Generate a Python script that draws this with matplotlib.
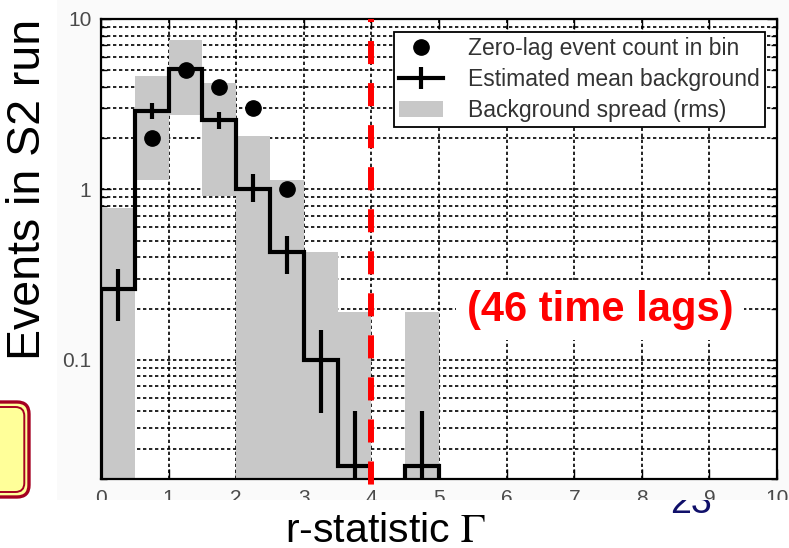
import numpy as np
import matplotlib
matplotlib.use("Agg")
import matplotlib.pyplot as plt
from matplotlib.lines import Line2D
from matplotlib.patches import Patch, Rectangle, FancyBboxPatch
from matplotlib.transforms import IdentityTransform, Bbox
from matplotlib.ticker import FixedLocator, LogLocator, NullFormatter

plt.rcParams['font.family'] = ['Liberation Sans', 'DejaVu Sans']
plt.rcParams['mathtext.fontset'] = 'stix'

# r-statistic histogram, bins of width 0.5
bin_edges = np.arange(0, 5.01, 0.5)
zero_lag = [0, 2, 5, 4, 3, 1, 0, 0, 0, 0]
bg_mean = [0.26, 2.9, 5.1, 2.55, 1.0, 0.43, 0.10, 0.024, 0, 0.024]
bg_err_low = [0.17, 2.6, 4.7, 2.25, 0.84, 0.32, 0.049, 0, np.nan, 0]
bg_err_high = [0.34, 3.2, 5.5, 2.85, 1.23, 0.53, 0.15, 0.05, np.nan, 0.05]
rms_low = [0, 1.13, 2.74, 0.92, 0, 0, 0, 0, 0, 0]
rms_high = [0.78, 4.66, 7.55, 4.22, 2.06, 1.13, 0.43, 0.19, 0, 0.19]
threshold = 4
xticks = list(range(11))
yticks = [0.1, 1, 10]
ytick_labels = ['0.1', '1', '10']

W, H = 789, 548
px = IdentityTransform()
fig = plt.figure(figsize=(W / 100, H / 100), dpi=100)

# page number sits behind the pasted plot
fig.text(691, H - 513, '23', color='#10106a', fontsize=27, ha='center',
         va='baseline', transform=px, zorder=-3)
fig.add_artist(Rectangle((57, H - 500), W - 57, 500, transform=px,
                         facecolor='#fafafa', edgecolor='none', zorder=-2))

ax = fig.add_axes([101 / W, 1 - 479 / H, 676 / W, 460 / H])
ax.set_yscale('log')
ax.set_xlim(0, 10)
ax.set_ylim(0.02, 10)
ax.set_axisbelow(True)

centers = (bin_edges[:-1] + bin_edges[1:]) / 2
mean = np.array(bg_mean)
lo = np.array(rms_low)
hi = np.array(rms_high)
ax.bar(centers, hi - lo, bottom=lo, width=0.5, color='#c8c8c8', zorder=1)
ax.stairs(mean, bin_edges, baseline=1e-4, color='k', lw=3, zorder=2)
yerr = [mean - np.array(bg_err_low), np.array(bg_err_high) - mean]
ax.errorbar(centers, mean, yerr=yerr, fmt='none', ecolor='k', elinewidth=3,
            capsize=0, zorder=2)
counts = np.ma.masked_equal(np.array(zero_lag, dtype=float), 0)
ax.plot(centers, counts, 'o', color='k', ms=11, zorder=3)

ax.plot([threshold, threshold], [1, -0.03], transform=ax.get_xaxis_transform(),
        color='red', lw=4.3, ls=(3.35, (3.86, 3.18)), clip_on=False, zorder=6)

ax.xaxis.set_major_locator(FixedLocator(xticks))
ax.yaxis.set_major_locator(FixedLocator(yticks))
ax.set_yticklabels(ytick_labels)
ax.yaxis.set_minor_locator(LogLocator(base=10, subs=np.arange(2, 10)))
ax.yaxis.set_minor_formatter(NullFormatter())
ax.grid(True, which='both', axis='y', color='k', ls=(0, (2, 1.6)), lw=1.2)
ax.grid(True, which='major', axis='x', color='k', ls=(0, (2, 1.6)), lw=1.2)
ax.tick_params(which='both', direction='in', top=True, right=True, width=1)
ax.tick_params(which='major', length=7, labelsize=15, labelcolor='#4a4a4a', pad=7)
ax.tick_params(which='minor', length=4)
for s in ax.spines.values():
    s.set_linewidth(1.6)

# the pasted plot image is cut just under the x tick labels
for t in ax.xaxis.get_major_ticks():
    t.label1.set_clip_box(Bbox([[0, H - 500], [W, H]]))
    t.label1.set_clip_on(True)

handles = [
    Line2D([], [], marker='o', color='k', ms=11, ls='none'),
    Line2D([], [], marker='|', color='k', ms=16, mew=3, lw=3),
    Patch(facecolor='#c8c8c8', edgecolor='none'),
]
labels = ['Zero-lag event count in bin', 'Estimated mean background',
          'Background spread (rms)']
leg = ax.legend(handles, labels, loc='upper right', bbox_to_anchor=(0.982, 0.972),
                borderaxespad=0, fontsize=16.5, labelcolor='#333', fancybox=False,
                framealpha=1, edgecolor='k', labelspacing=0.36, handlelength=1.9,
                handletextpad=1.1, borderpad=0.22, numpoints=1)
leg.get_frame().set_linewidth(1.3)
leg.set_zorder(5)

fig.text(600, H - 310, '(46 time lags)', color='red', fontsize=30,
         fontweight='bold', ha='center', va='center', transform=px, zorder=5,
         bbox=dict(boxstyle='square,pad=0.25', fc='white', ec='none'))

fig.text(28, H - 189, 'Events in S2 run', fontsize=33.5, rotation=90,
         ha='center', va='center', transform=px, zorder=5)
fig.text(285, H - 542, r'r-statistic $\Gamma$', fontsize=29.5, ha='left',
         va='baseline', transform=px, zorder=5)

# yellow callout box at the left edge
fig.add_artist(FancyBboxPatch((-25, H - 497), 54, 95, transform=px,
                              boxstyle='round,pad=0,rounding_size=12',
                              facecolor='#ffff99', edgecolor='#a50021', lw=2.4, zorder=4))
fig.add_artist(FancyBboxPatch((-20, H - 492), 44.3, 85, transform=px,
                              boxstyle='round,pad=0,rounding_size=9',
                              facecolor='none', edgecolor='#a50021', lw=1.4, zorder=4))

fig.savefig('out.png', dpi=100)
